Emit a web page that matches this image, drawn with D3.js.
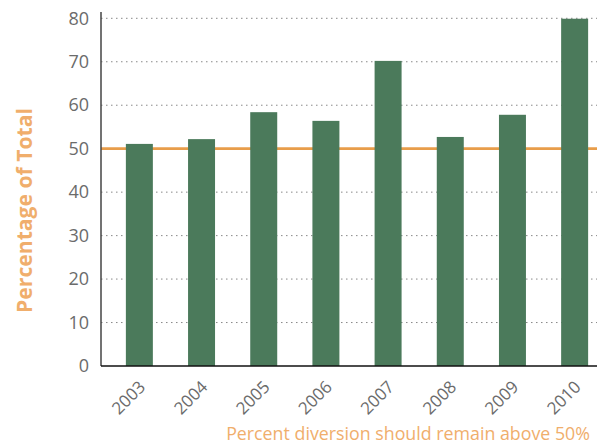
<html>
<head>
<script src="https://d3js.org/d3.v7.min.js"></script>
<style>
  body { margin: 0; background: #fff; }
  text { font-family: "Open Sans", "DejaVu Sans", sans-serif; }
</style>
</head>
<body>
<div id="chart"></div>
<script>
var years = ["2003", "2004", "2005", "2006", "2007", "2008", "2009", "2010"]
var percents = [51.1, 52.2, 58.4, 56.4, 70.2, 52.7, 57.8, 79.9]
var yTicks = [0, 10, 20, 30, 40, 50, 60, 70, 80]
var target = 50

var width = 597, height = 446
var plotLeft = 101, plotTop = 12, plotBottom = 366

var svg = d3.select("#chart").append("svg")
	.attr("width", width)
	.attr("height", height)

var x = d3.scaleBand()
	.domain(years)
	.range([plotLeft, 613])
	.paddingInner(0.566)
	.paddingOuter(0.4)

var y = d3.scaleLinear()
	.domain([0, 80])
	.range([plotBottom, 18.3])

// dotted gridlines
svg.append("g")
	.selectAll("line")
	.data(yTicks.filter(function(d){ return d > 0 }))
	.enter()
	.append("line")
	.attr("x1", plotLeft)
	.attr("x2", width)
	.attr("y1", function(d){ return y(d) })
	.attr("y2", function(d){ return y(d) })
	.style("stroke", "#888")
	.style("stroke-width", 1)
	.style("stroke-dasharray", "1.5,3.5")

// target line (behind bars)
svg.append("line")
	.attr("x1", plotLeft)
	.attr("x2", width)
	.attr("y1", y(target))
	.attr("y2", y(target))
	.style("stroke", "#e89d4a")
	.style("stroke-width", 2.7)

svg.append("g")
	.selectAll("rect")
	.data(percents)
	.enter()
	.append("rect")
	.attr("x", function(d, i){ return x(years[i]) })
	.attr("y", function(d){ return y(d) })
	.attr("width", x.bandwidth())
	.attr("height", function(d){ return plotBottom - y(d) })
	.style("fill", "#4b7a5b")

// y axis
var yAxis = svg.append("g")
	.attr("transform", "translate(" + plotLeft + ",0)")
	.call(d3.axisLeft(y).tickValues(yTicks).tickSize(0).tickPadding(12))
yAxis.select(".domain").remove()
yAxis.selectAll("text")
	.style("font-size", "18px")
	.style("fill", "#6b6b6b")

svg.append("line")
	.attr("x1", plotLeft).attr("x2", plotLeft)
	.attr("y1", plotTop).attr("y2", plotBottom)
	.style("stroke", "#444")
	.style("stroke-width", 1.5)

// x axis
var xAxis = svg.append("g")
	.attr("transform", "translate(0," + plotBottom + ")")
	.call(d3.axisBottom(x).tickSize(0))
xAxis.select(".domain").remove()
xAxis.selectAll("text")
	.style("font-size", "17px")
	.style("fill", "#6b6b6b")
	.style("text-anchor", "end")
	.attr("dx", "0")
	.attr("dy", "0")
	.attr("transform", "translate(5,20) rotate(-45)")

svg.append("line")
	.attr("x1", plotLeft).attr("x2", width)
	.attr("y1", plotBottom).attr("y2", plotBottom)
	.style("stroke", "#111")
	.style("stroke-width", 1.5)

var title = svg.append("text")
	.attr("transform", "translate(31.5,210.5) rotate(-90)")
	.attr("text-anchor", "middle")
	.style("font-size", "20px")
	.style("font-weight", "bold")
	.style("fill", "#f0ae6c")
	.text("Percentage of Total")
title.style("font-size", (20 * 205 / title.node().getComputedTextLength()) + "px")

var note = svg.append("text")
	.attr("x", 590)
	.attr("y", 440)
	.attr("text-anchor", "end")
	.style("font-size", "15px")
	.style("fill", "#f0ae6c")
	.text("Percent diversion should remain above 50%")
note.style("font-size", (15 * 364 / note.node().getComputedTextLength()) + "px")
</script>
</body>
</html>
